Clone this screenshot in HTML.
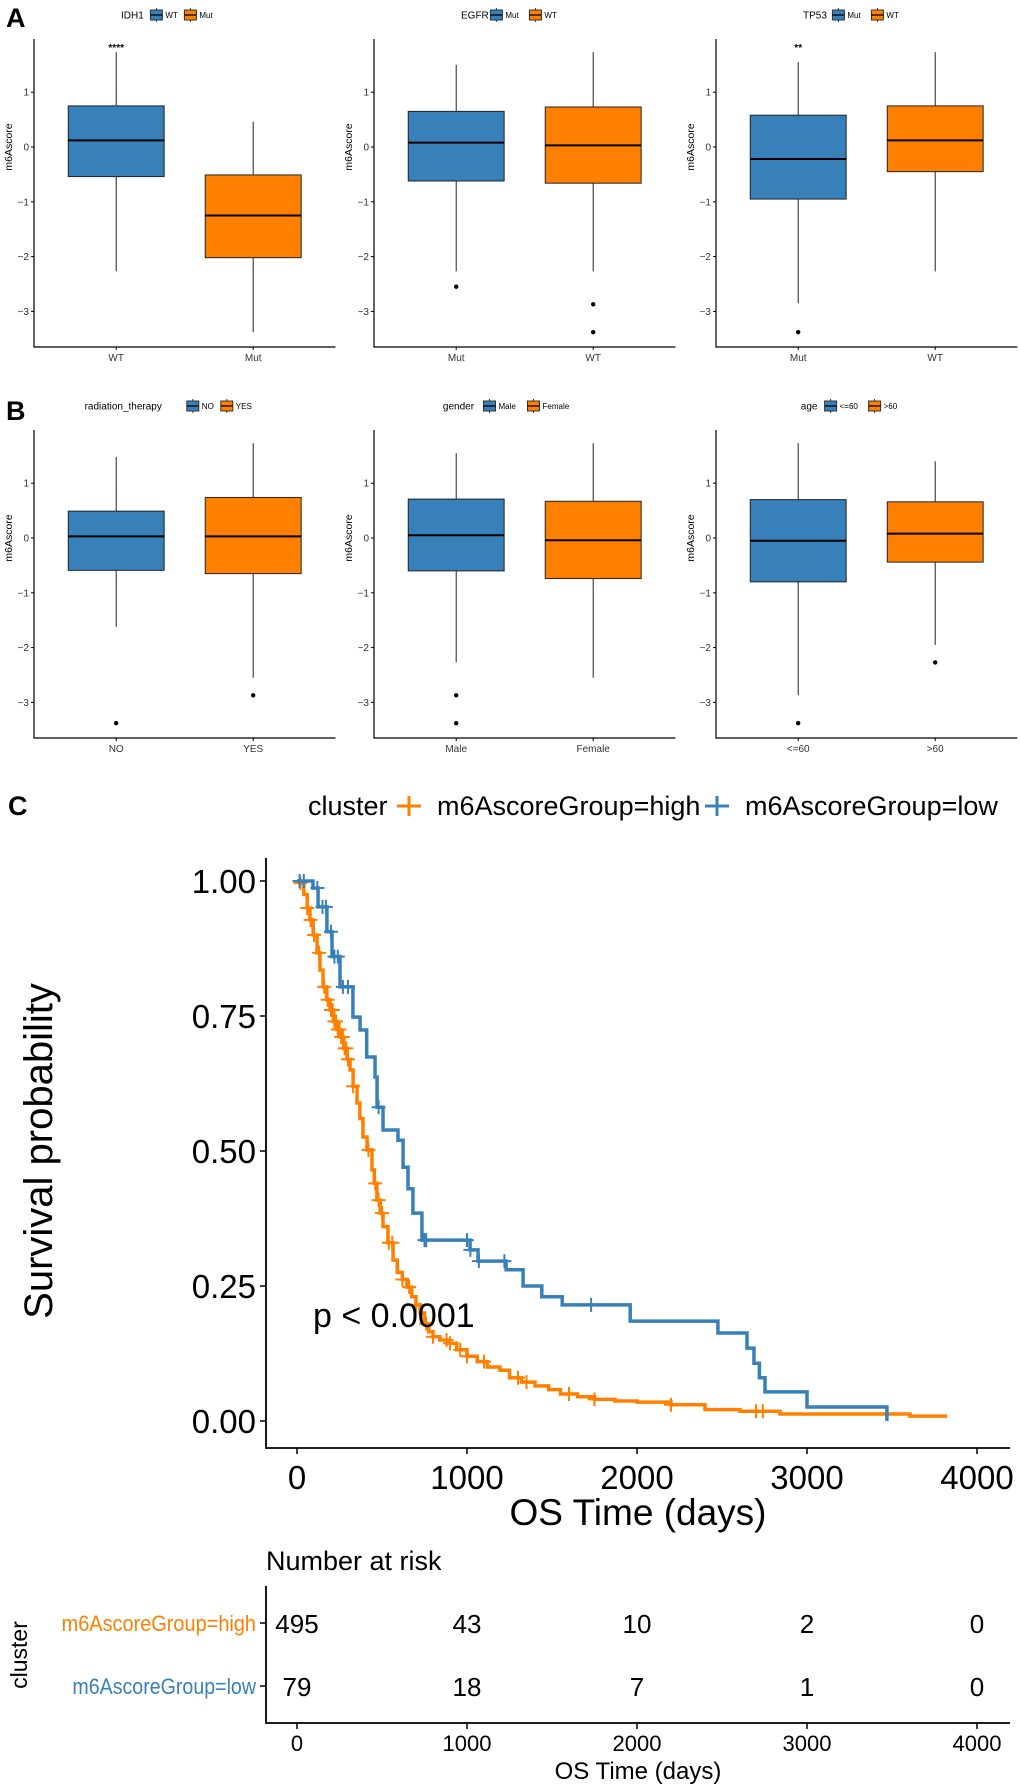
<!DOCTYPE html>
<html><head><meta charset="utf-8"><style>
html,body{margin:0;padding:0;background:#fff}
svg{display:block;font-family:"Liberation Sans",Arial,sans-serif}
</style></head><body>
<svg id="fig" width="1020" height="1787" viewBox="0 0 1020 1787" xmlns="http://www.w3.org/2000/svg">
<text x="6" y="27" font-size="27" font-weight="bold">A</text>
<text x="6" y="420" font-size="27" font-weight="bold">B</text>
<text x="8" y="815" font-size="27" font-weight="bold">C</text>
<g id="boxes"></g>
<g id="km"></g>
</svg>
<script>
// ---------- Box plot data ----------
const panelTitles = ["IDH1","EGFR","TP53","radiation_therapy","gender","age"];
const panelCats = [["WT","Mut"],["Mut","WT"],["Mut","WT"],["NO","YES"],["Male","Female"],["<=60",">60"]];
// [lowWhisker, q1, median, q3, highWhisker] per category
const panelStats = [
 [[-2.27,-0.54,0.12,0.75,1.73],[-3.38,-2.02,-1.25,-0.51,0.46]],
 [[-2.27,-0.62,0.08,0.65,1.5],[-2.27,-0.66,0.03,0.73,1.73]],
 [[-2.85,-0.95,-0.22,0.58,1.55],[-2.27,-0.45,0.12,0.75,1.73]],
 [[-1.62,-0.59,0.03,0.49,1.48],[-2.55,-0.65,0.03,0.74,1.73]],
 [[-2.27,-0.6,0.05,0.71,1.55],[-2.55,-0.74,-0.04,0.67,1.73]],
 [[-2.87,-0.8,-0.05,0.7,1.73],[-1.95,-0.44,0.08,0.66,1.4]]
];
const panelOutliers = [
 [[],[]],
 [[-2.55],[-2.87,-3.38]],
 [[-3.38],[]],
 [[-3.38],[-2.87]],
 [[-2.87,-3.38],[]],
 [[-3.38],[-2.27]]
];
const panelSig = ["****","","**","","",""];
const yTicks = [1,0,-1,-2,-3];

// ---------- KM data ----------
const kmTicks = [0,1000,2000,3000,4000];
const survTicks = [1.00,0.75,0.50,0.25,0.00];
const highTime = [0,18,40,60,76,95,118,135,153,175,194,215,235,253,275,295,312,330,353,370,388,412,441,455,470,490,506,535,565,590,620,647,675,700,724,750,775,800,840,882,940,1000,1060,1120,1194,1250,1320,1400,1480,1550,1650,1750,1870,2000,2200,2400,2606,2841,3606,3824];
const highSurv = [1,0.996,0.975,0.95,0.928,0.9,0.867,0.835,0.804,0.78,0.761,0.74,0.725,0.711,0.69,0.67,0.65,0.62,0.589,0.56,0.526,0.502,0.465,0.44,0.409,0.385,0.36,0.33,0.298,0.275,0.262,0.248,0.23,0.215,0.2,0.18,0.165,0.156,0.15,0.144,0.132,0.12,0.11,0.1,0.094,0.08,0.072,0.065,0.058,0.05,0.045,0.04,0.037,0.035,0.03,0.021,0.018,0.013,0.009,0.009];
const lowTime = [0,18,94,124,176,206,253,329,371,410,459,471,506,594,624,653,682,735,1018,1065,1230,1330,1440,1560,1960,2476,2647,2688,2720,2753,3000,3470];
const lowSurv = [1,1.0,0.987,0.952,0.906,0.86,0.804,0.748,0.724,0.674,0.637,0.581,0.539,0.52,0.47,0.43,0.385,0.335,0.317,0.296,0.28,0.25,0.23,0.215,0.185,0.163,0.135,0.107,0.08,0.054,0.026,0];
const highCensor = [20,60,80,100,130,160,180,200,210,220,230,240,250,260,270,280,290,300,330,420,460,480,500,540,560,620,660,700,760,800,880,900,960,1000,1100,1300,1350,1600,1750,2200,2700,2740];
const lowCensor = [15,40,120,150,170,200,220,240,270,300,480,750,760,1000,1020,1070,1220,1730];
const riskHigh = [495,43,10,2,0];
const riskLow = [79,18,7,1,0];

const NS = "http://www.w3.org/2000/svg";
function mk(tag, attrs, parent, text){
  const e = document.createElementNS(NS, tag);
  for (const k in attrs) e.setAttribute(k, attrs[k]);
  if (text !== undefined) e.textContent = text;
  parent.appendChild(e);
  return e;
}
const BLUE = "#3780BA", ORANGE = "#FF8000";

// ---------- Box plots ----------
const gB = document.getElementById("boxes");
const axX = [34,374,716];
const rowZero = [147,538], unitY = 54.8, rowTop = [39,430], rowBot = [347,738];
for (let p = 0; p < 6; p++){
  const col = p % 3, row = Math.floor(p/3);
  const ax = axX[col], unit = 137;
  const yv = v => rowZero[row] - unitY * v;
  const xc = i => ax + (0.6 + i) * unit;
  const g = mk("g", {}, gB);
  
  
  const axes = mk("path", {d:`M${ax},${rowTop[row]}V${rowBot[row]}H${ax+2.2*unit}`, stroke:"#000", "stroke-width":1.2, fill:"none"}, g);
  
  
  yTicks.forEach(t => {
    mk("line", {x1:ax-3, x2:ax, y1:yv(t), y2:yv(t), stroke:"#000"}, g);
    const tl = mk("text", {x:ax-5, y:yv(t)+3.5, "font-size":10, "text-anchor":"end", fill:"#333"}, g, t < 0 ? "\u2212" + (-t) : String(t));
    
    
  });
  const yt = mk("text", {x:0, y:0, "font-size":10.5, "text-anchor":"middle", transform:`translate(${ax-22},${rowZero[row]}) rotate(-90)`}, g, "m6Ascore");
  
  
  panelCats[p].forEach((c, i) => {
    const s = panelStats[p][i];
    const x = xc(i), w = 0.7 * unit, fill = i === 0 ? BLUE : ORANGE;
    mk("line", {x1:x, x2:x, y1:yv(s[4]), y2:yv(s[3]), stroke:"#222", "stroke-width":1}, g);
    mk("line", {x1:x, x2:x, y1:yv(s[1]), y2:yv(s[0]), stroke:"#222", "stroke-width":1}, g);
    const r = mk("rect", {x:x-w/2, y:yv(s[3]), width:w, height:yv(s[1])-yv(s[3]), fill:fill, stroke:"#222", "stroke-width":1}, g);
    
    
    mk("line", {x1:x-w/2, x2:x+w/2, y1:yv(s[2]), y2:yv(s[2]), stroke:"#000", "stroke-width":2}, g);
    panelOutliers[p][i].forEach(o => {
      const pt = mk("circle", {cx:x, cy:yv(o), r:2.2, fill:"#000"}, g);
      
      
    });
    mk("line", {x1:x, x2:x, y1:rowBot[row], y2:rowBot[row]+3, stroke:"#000"}, g);
    const xl = mk("text", {x:x, y:rowBot[row]+14, "font-size":10, "text-anchor":"middle", fill:"#333"}, g, c);
    
    
  });
  if (panelSig[p]) {
    const st = mk("text", {x:xc(0), y:yv(1.73)-1, "font-size":10, "text-anchor":"middle", "font-weight":"bold"}, g, panelSig[p]);
    
    
  }
  const lg = mk("g", {}, g);
  
  
  const ly = row === 0 ? 15 : 406;
  const cx = ax + 1.1 * unit - 10;
  const items = [panelTitles[p], panelCats[p][0], panelCats[p][1]];
  const tw = items[0].length * 5.6 + 8 + (items[1].length + items[2].length) * 5 + 2 * 22 + 8;
  let lx = cx - tw / 2;
  mk("text", {x:lx, y:ly+3.5, "font-size":10}, lg, items[0]);
  lx += items[0].length * 5.6 + 6;
  [1,2].forEach(k => {
    mk("line", {x1:lx+7, x2:lx+7, y1:ly-7, y2:ly+7, stroke:"#333"}, lg);
    mk("rect", {x:lx+1, y:ly-5, width:12, height:10, fill:k === 1 ? BLUE : ORANGE, stroke:"#333"}, lg);
    mk("line", {x1:lx+1, x2:lx+13, y1:ly, y2:ly, stroke:"#000", "stroke-width":1.3}, lg);
    lx += 16;
    mk("text", {x:lx, y:ly+3, "font-size":8}, lg, items[k]);
    lx += items[k].length * 5 + 8;
  });
}

// ---------- KM plot ----------
const gK = document.getElementById("km");
const X0 = 297, XU = 0.17, Y1 = 881, Y0 = 1421;
const kx = t => X0 + XU * t;
function kyv(s){ return Y0 - (Y0 - Y1) * s; }
const kmAxes = mk("path", {d:`M266,858V1448H1010`, stroke:"#000", "stroke-width":1.8, fill:"none"}, gK);


survTicks.forEach(s => {
  mk("line", {x1:260, x2:266, y1:kyv(s), y2:kyv(s), stroke:"#000", "stroke-width":1.5}, gK);
  const t = mk("text", {x:256, y:kyv(s)+12, "font-size":33, "text-anchor":"end"}, gK, s.toFixed(2));
  
  
});
kmTicks.forEach(v => {
  mk("line", {x1:kx(v), x2:kx(v), y1:1448, y2:1454, stroke:"#000", "stroke-width":1.5}, gK);
  const t = mk("text", {x:kx(v), y:1489, "font-size":33, "text-anchor":"middle"}, gK, String(v));
  
  
});
const kxt = mk("text", {x:638, y:1525, "font-size":37, "text-anchor":"middle"}, gK, "OS Time (days)");


const kyt = mk("text", {x:0, y:0, "font-size":40, "text-anchor":"middle", transform:"translate(52,1151) rotate(-90)"}, gK, "Survival probability");


function stepPath(ts, ss){
  let d = `M${kx(ts[0])},${kyv(ss[0])}`;
  for (let i = 1; i < ts.length; i++) d += `H${kx(ts[i])}V${kyv(ss[i])}`;
  return d;
}
function survAt(ts, ss, t){
  let s = ss[0];
  for (let i = 0; i < ts.length; i++) if (ts[i] <= t) s = ss[i];
  return s;
}
[[highTime, highSurv, highCensor, ORANGE, 'high'], [lowTime, lowSurv, lowCensor, BLUE, 'low']].forEach(([ts, ss, cs, colr, nm]) => {
  const line = mk("path", {d:stepPath(ts, ss), stroke:colr, "stroke-width":3.5, fill:"none"}, gK);
  
  
  cs.forEach(t => {
    const x = kx(t), y = kyv(survAt(ts, ss, t));
    const c = mk("path", {d:`M${x-7},${y}H${x+7}M${x},${y-7}V${y+7}`, stroke:colr, "stroke-width":2}, gK);
    
    
  });
});
const pv = mk("text", {x:313, y:1327, "font-size":34}, gK, "p < 0.0001");


const kl = mk("g", {}, gK);


mk("text", {x:308, y:815, "font-size":27}, kl, "cluster");
mk("path", {d:"M397,806H421M409,796V816", stroke:ORANGE, "stroke-width":3}, kl);
mk("text", {x:437, y:815, "font-size":27}, kl, "m6AscoreGroup=high");
mk("path", {d:"M705,806H729M717,796V816", stroke:BLUE, "stroke-width":3}, kl);
mk("text", {x:745, y:815, "font-size":27}, kl, "m6AscoreGroup=low");

// ---------- Risk table ----------
const rt = mk("text", {x:266, y:1570, "font-size":27}, gK, "Number at risk");


const rAx = mk("path", {d:"M266,1586V1723H1010", stroke:"#000", "stroke-width":1.8, fill:"none"}, gK);


[[riskHigh, 1623, ORANGE, "m6AscoreGroup=high"], [riskLow, 1686, BLUE, "m6AscoreGroup=low"]].forEach(([vals, y, colr, lab]) => {
  mk("line", {x1:260, x2:266, y1:y, y2:y, stroke:"#000", "stroke-width":1.5}, gK);
  const l = mk("text", {x:256, y:y+8, "font-size":22, "text-anchor":"end", fill:colr, textLength:lab.length*10.8, lengthAdjust:"spacingAndGlyphs"}, gK, lab);
  
  
  vals.forEach((v, i) => {
    const t = mk("text", {x:kx(kmTicks[i]), y:y+10, "font-size":26, "text-anchor":"middle"}, gK, String(v));
    
    
  });
});
const cl = mk("text", {x:0, y:0, "font-size":23, "text-anchor":"middle", transform:"translate(27,1655) rotate(-90)"}, gK, "cluster");


kmTicks.forEach(v => {
  mk("line", {x1:kx(v), x2:kx(v), y1:1723, y2:1729, stroke:"#000", "stroke-width":1.5}, gK);
  const t = mk("text", {x:kx(v), y:1751, "font-size":22, "text-anchor":"middle"}, gK, String(v));
  
  
});
const rxt = mk("text", {x:638, y:1779, "font-size":24, "text-anchor":"middle"}, gK, "OS Time (days)");


</script>
</body></html>
